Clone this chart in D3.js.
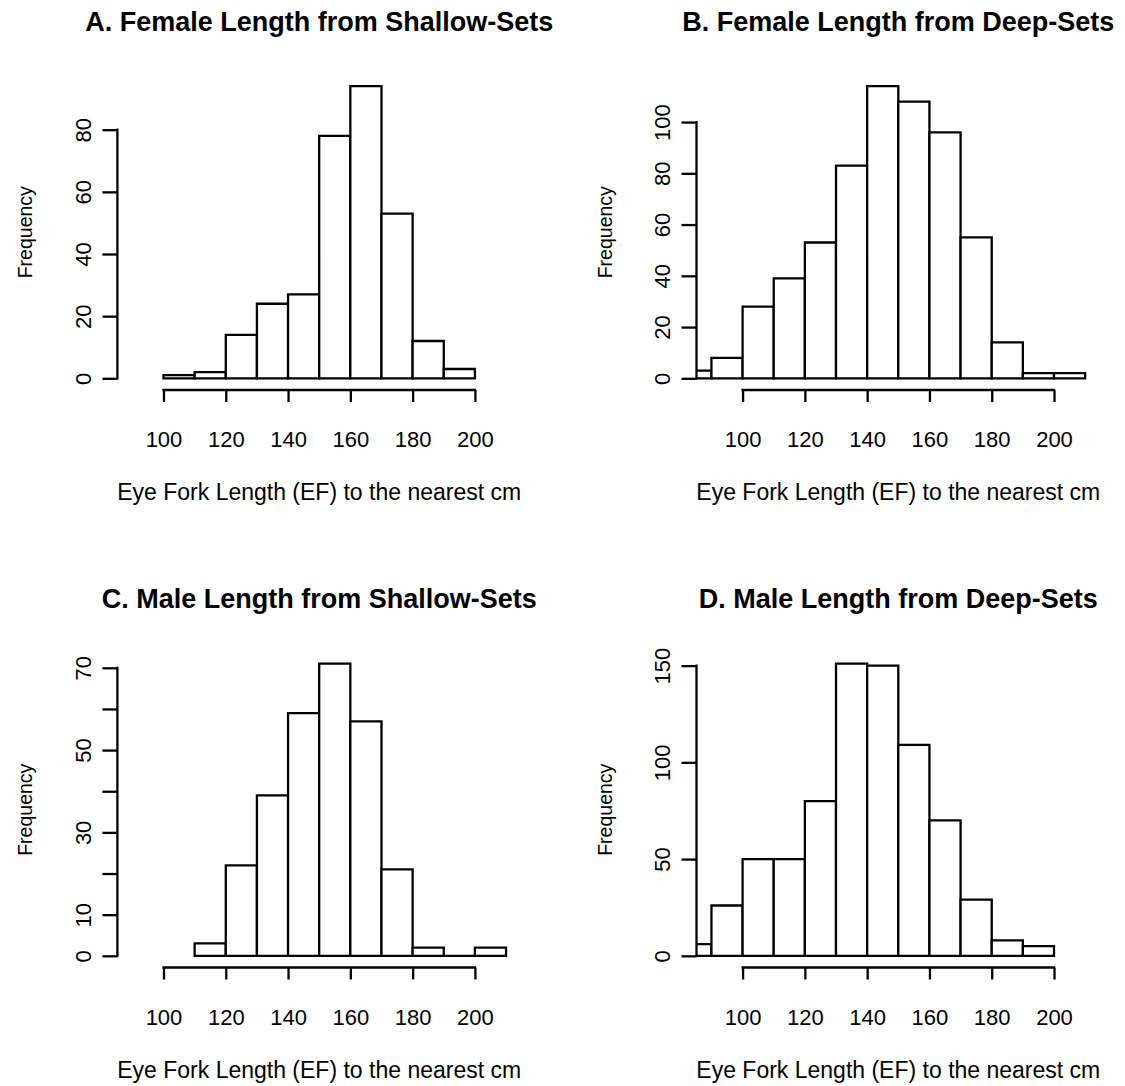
<!DOCTYPE html>
<html><head><meta charset="utf-8">
<script src="https://cdn.jsdelivr.net/npm/d3@7"></script>
<style>
html,body{margin:0;padding:0;background:#fff;}
svg{display:block;}
text{font-family:"Liberation Sans", Arial, Helvetica, sans-serif;fill:#000;}
</style></head>
<body>
<svg id="chart" width="1125" height="1086"></svg>
<script>
// ---- data (10-cm bins; first value = left edge of first bin) ----
const titles = [
  "A. Female Length from Shallow-Sets",
  "B. Female Length from Deep-Sets",
  "C. Male Length from Shallow-Sets",
  "D. Male Length from Deep-Sets"
];
const binStarts = [100, 80, 110, 80];
const countsA = [1, 2, 14, 24, 27, 78, 94, 53, 12, 3];
const countsB = [3, 8, 28, 39, 53, 83, 114, 108, 96, 55, 14, 2, 2];
const countsC = [3, 22, 39, 59, 71, 57, 21, 2, 0, 2];
const countsD = [6, 26, 50, 50, 80, 151, 150, 109, 70, 29, 8, 5];
const binWidth = 10;
const xTicks = [100, 120, 140, 160, 180, 200];
const yTicksA = [0, 20, 40, 60, 80];
const yTicksB = [0, 20, 40, 60, 80, 100];
const yTicksC = [0, 10, 20, 30, 40, 50, 60, 70];
const yLabelsC = [0, 10, 30, 50, 70];
const yTicksD = [0, 50, 100, 150];
const xLimit = [90, 210];
const xLabel = "Eye Fork Length (EF) to the nearest cm";
const yLabel = "Frequency";

// ---- layout ----
const svg = d3.select("#chart");
const plotLeft = [117.4, 696.5];
const plotWidth = 403.6;
const plotBottom = [390, 967.5];
const plotHeight = 315.5;
const tickFont = 22;
const xLabFont = 23;
const yLabFont = 19.5;
const titleFont = 27;
const lw = 2.3;

const panels = [
  {title: titles[0], start: binStarts[0], counts: countsA, yTicks: yTicksA, yLabels: yTicksA, col: 0, row: 0},
  {title: titles[1], start: binStarts[1], counts: countsB, yTicks: yTicksB, yLabels: yTicksB, col: 1, row: 0},
  {title: titles[2], start: binStarts[2], counts: countsC, yTicks: yTicksC, yLabels: yLabelsC, col: 0, row: 1},
  {title: titles[3], start: binStarts[3], counts: countsD, yTicks: yTicksD, yLabels: yTicksD, col: 1, row: 1}
];

const pad = (xLimit[1] - xLimit[0]) * 0.04;

panels.forEach((p, i) => {
  const left = plotLeft[p.col], bottom = plotBottom[p.row];
  const top = bottom - plotHeight, right = left + plotWidth;
  const ymax = d3.max(p.counts);
  const x = d3.scaleLinear().domain([xLimit[0] - pad, xLimit[1] + pad]).range([left, right]);
  const y = d3.scaleLinear().domain([-0.04 * ymax, 1.04 * ymax]).range([bottom, top]);

  const g = svg.append("g");
  const clipId = "clip" + i;
  svg.append("clipPath").attr("id", clipId).append("rect")
    .attr("x", left).attr("y", top - 2).attr("width", plotWidth).attr("height", plotHeight + 4);

  const bins = p.counts.map((c, k) => ({x0: p.start + k * binWidth, x1: p.start + (k + 1) * binWidth, c}));
  g.append("g").attr("clip-path", `url(#${clipId})`)
    .selectAll("path").data(bins).join("path")
    .attr("d", d => `M${x(d.x0)},${y(0)}V${y(d.c)}H${x(d.x1)}V${y(0)}Z`)
    .attr("fill", "#fff").attr("stroke", "#000").attr("stroke-width", lw)
    .attr("stroke-linejoin", "miter");

  // x axis
  const xa = g.append("g").attr("transform", `translate(0,${bottom})`)
    .call(d3.axisBottom(x).tickValues(xTicks).tickSizeInner(12).tickSizeOuter(0).tickFormat(d3.format("d")));
  xa.select(".domain").remove();
  xa.append("line").attr("x1", x(xTicks[0])).attr("x2", x(xTicks[xTicks.length - 1]))
    .attr("y1", 0).attr("y2", 0).attr("stroke", "#000").attr("stroke-width", lw).attr("stroke-linecap", "square");
  xa.selectAll(".tick line").attr("stroke-width", lw);
  xa.selectAll(".tick text").attr("y", 57).attr("dy", null)
    .style("font-size", tickFont + "px").attr("font-family", null);

  // y axis
  const ya = g.append("g").attr("transform", `translate(${left},0)`)
    .call(d3.axisLeft(y).tickValues(p.yTicks).tickSizeInner(15).tickSizeOuter(0)
      .tickFormat(v => p.yLabels.includes(v) ? String(v) : ""));
  ya.select(".domain").remove();
  ya.append("line").attr("x1", 0).attr("x2", 0)
    .attr("y1", y(0)).attr("y2", y(p.yTicks[p.yTicks.length - 1]))
    .attr("stroke", "#000").attr("stroke-width", lw).attr("stroke-linecap", "square");
  ya.selectAll(".tick line").attr("stroke-width", lw);
  ya.selectAll(".tick text").attr("x", null).attr("dy", null)
    .attr("text-anchor", "middle")
    .attr("transform", `translate(-26.5,0) rotate(-90)`)
    .style("font-size", tickFont + "px").attr("font-family", null);

  const cx = (left + right) / 2;
  // title
  svg.append("text").attr("x", cx).attr("y", top - 44)
    .attr("text-anchor", "middle").style("font-size", titleFont + "px").style("font-weight", "bold")
    .text(p.title);
  // x label
  svg.append("text").attr("x", cx).attr("y", bottom + 110)
    .attr("text-anchor", "middle").style("font-size", xLabFont + "px").text(xLabel);
  // y label
  svg.append("text").attr("transform", `translate(${left - 85},${(top + bottom) / 2}) rotate(-90)`)
    .attr("text-anchor", "middle").style("font-size", yLabFont + "px").text(yLabel);
});
</script>
</body></html>
